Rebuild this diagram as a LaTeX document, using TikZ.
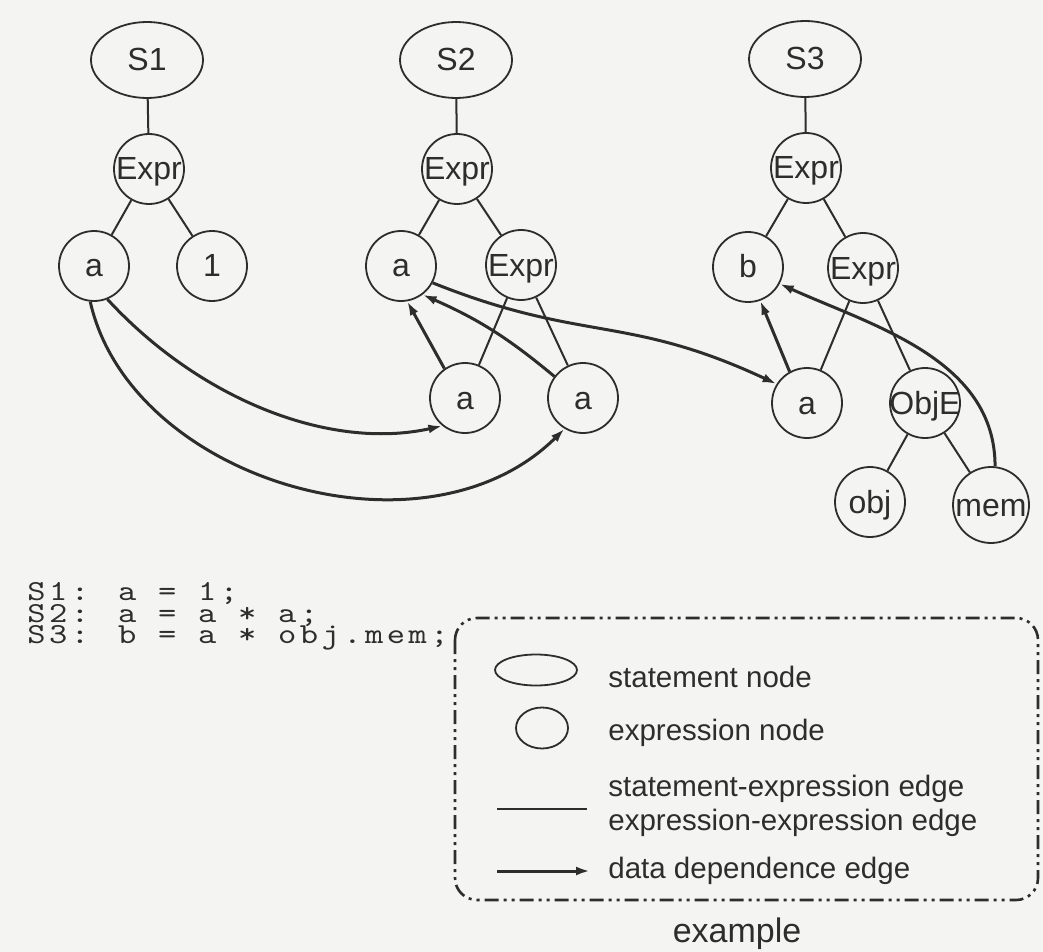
\documentclass[tikz,border=0pt]{standalone}
\usepackage{fontspec}
\setmainfont{Liberation Sans}
% widened, letter-spaced serif typewriter face for the source listing
\IfFontExistsTF{lmmono10-regular.otf}
  {\newfontfamily\codefont[FakeStretch=1.2,LetterSpace=12]{lmmono10-regular.otf}}
  {\newfontfamily\codefont[LetterSpace=21]{Liberation Mono}}
\usetikzlibrary{arrows.meta,shapes.geometric}
\definecolor{paper}{RGB}{244,244,242}
\definecolor{ink}{RGB}{45,45,45}
% label of zero width, so wide words do not enlarge the circles
\newcommand\nodetext[1]{\makebox[0pt]{#1}}
\begin{document}
\begin{tikzpicture}[x=0.5pt,y=-0.5pt,
  every node/.style={text=ink},
  labelfont/.style={font=\fontsize{16}{16}\selectfont,text height=11pt,text depth=0pt},
  stmt/.style={ellipse,draw=ink,line width=0.9pt,minimum width=56pt,minimum height=38pt,inner sep=0pt,labelfont},
  expr/.style={circle,draw=ink,line width=0.9pt,minimum size=35pt,inner sep=0pt,labelfont},
  tree/.style={draw=ink,line width=1pt},
  dep/.style={draw=ink,line width=1.5pt,-{Latex[length=7pt,width=4.5pt]}},
  legendtext/.style={anchor=base west,font=\fontsize{14.75}{14.75}\selectfont,inner sep=0pt},
  code/.style={anchor=base west,inner sep=0pt,font=\codefont\fontsize{14.5}{14.5}\selectfont},
]
\fill[paper] (0,0) rectangle (1043,952);
\useasboundingbox (0,0) rectangle (1043,952);

% statement S1
\node[stmt] (S1) at (147,60) {S1};
\node[expr] (E1) at (149,169) {\nodetext{Expr}};
\node[expr] (A1) at (94,266) {\nodetext{a}};
\node[expr] (ONE) at (212,266) {\nodetext{1}};

% statement S2
\node[stmt] (S2) at (456,60) {S2};
\node[expr] (E2) at (457,169) {\nodetext{Expr}};
\node[expr] (A2) at (401,266) {\nodetext{a}};
\node[expr] (E2b) at (521,265) {\nodetext{Expr}};
\node[expr] (A2l) at (465,398) {\nodetext{a}};
\node[expr] (A2r) at (583,398) {\nodetext{a}};

% statement S3
\node[stmt] (S3) at (805,59) {S3};
\node[expr] (E3) at (806,168) {\nodetext{Expr}};
\node[expr] (B3) at (748,267) {\nodetext{b}};
\node[expr] (E3b) at (863,268) {\nodetext{Expr}};
\node[expr] (A3) at (807,403) {\nodetext{a}};
\node[expr] (OBJE) at (925,403) {\nodetext{ObjE}};
\node[expr] (OBJ) at (870,502) {\nodetext{obj}};
\node[expr,minimum size=38pt] (MEM) at (991,505) {\nodetext{mem}};

% statement-expression and expression-expression edges
\draw[tree] (S1) -- (E1) (E1) -- (A1) (E1) -- (ONE);
\draw[tree] (S2) -- (E2) (E2) -- (A2) (E2) -- (E2b)
            (E2b) -- (A2l) (E2b) -- (A2r);
\draw[tree] (S3) -- (E3) (E3) -- (B3) (E3) -- (E3b)
            (E3b) -- (A3) (E3b) -- (OBJE)
            (OBJE) -- (OBJ) (OBJE) -- (MEM);

% data dependence edges
\draw[dep] (A1.-68) .. controls +(92,100) and +(-113,25) .. (A2l.231);
\draw[dep] (A1.-96) .. controls +(40,178) and +(-140,139) .. (A2r.239);
\draw[dep] (A2l.125) -- (A2.-80);
\draw[dep] (A2r.143) to[bend right=8] (A2.-53);
\draw[dep] (A2.-28) .. controls +(150,60) and +(-150,-70) .. (A3.148);
\draw[dep] (A3.119) -- (B3.-70);
\draw[dep] (MEM.84) .. controls +(0,-107) and +(93,42) .. (B3.-28);

% source code
\node[code] (C1) at (27,600) {S1: a = 1;};
\node[code] (C2) at (27,622) {S2: a = a * a;};
\node[code] (C3) at (27,643) {S3: b = a * obj.mem;};

% legend
\draw[ink,line width=1.3pt,rounded corners=11pt,
      dash pattern=on 7pt off 2.5pt on 1.5pt off 2.5pt on 1.5pt off 2.5pt]
  (455,618) rectangle (1038,900);
\node[ellipse,draw=ink,line width=0.9pt,minimum width=41pt,minimum height=15.5pt,inner sep=0pt] (LS) at (536,670) {};
\node[ellipse,draw=ink,line width=0.9pt,minimum width=26pt,minimum height=20.5pt,inner sep=0pt] (LE) at (542,728) {};
\node[legendtext] (T1) at (608,687) {statement node};
\node[legendtext] (T2) at (608,740) {expression node};
\node[legendtext] (T3) at (608,796) {statement-expression edge};
\node[legendtext] (T4) at (608,830) {expression-expression edge};
\node[legendtext] (T5) at (608,878) {data dependence edge};
\coordinate (L1a) at (497,809);
\coordinate (L1b) at (587,809);
\draw[tree] (L1a) -- (L1b);
\coordinate (L2a) at (497,871);
\coordinate (L2b) at (590,871);
\draw[dep] (L2a) -- (L2b);
\node[anchor=base,font=\fontsize{17}{17}\selectfont,inner sep=0pt] (CAP) at (737,942) {example};
\end{tikzpicture}
\end{document}
